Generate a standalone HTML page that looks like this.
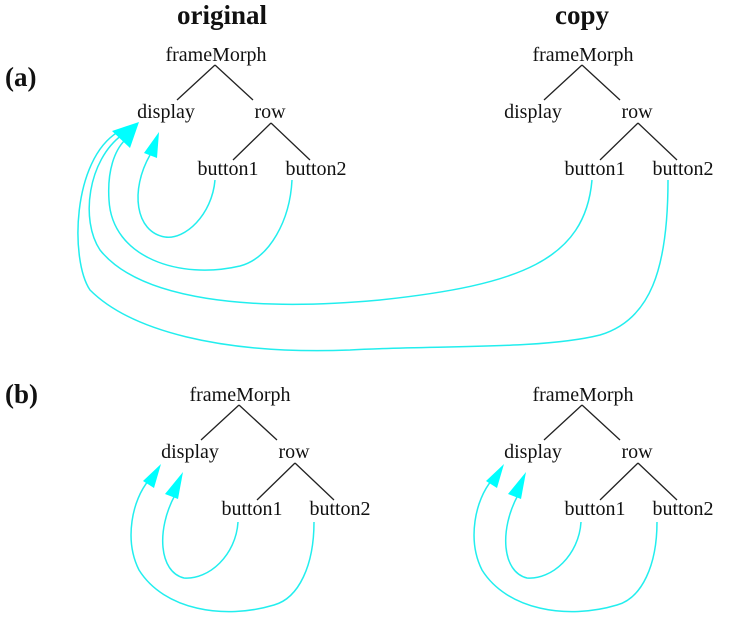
<!DOCTYPE html>
<html><head><meta charset="utf-8"><style>
html,body{margin:0;padding:0;background:#fff}
svg{display:block}
text{font-family:"Liberation Serif",serif;font-size:20px;fill:#111}
.b{font-weight:bold;font-size:27px}
.l{stroke:#222;stroke-width:1.3;fill:none}
.c{stroke:#22eeee;stroke-width:1.5;fill:none}
.h{fill:#00ffff}
</style></head><body>
<svg width="735" height="625" viewBox="0 0 735 625">
<defs>
<g id="tree">
<text x="216" y="61" text-anchor="middle">frameMorph</text>
<text x="166" y="118" text-anchor="middle">display</text>
<text x="270" y="118" text-anchor="middle">row</text>
<text x="228" y="175" text-anchor="middle">button1</text>
<text x="316" y="175" text-anchor="middle">button2</text>
<path class="l" d="M215,65 L177,100 M215,65 L253,100 M271,123 L233,160 M271,123 L310,160"/>
</g>
</defs>
<text class="b" x="222" y="24" text-anchor="middle">original</text>
<text class="b" x="582" y="24" text-anchor="middle">copy</text>
<text class="b" x="5" y="86">(a)</text>
<text class="b" x="5" y="403">(b)</text>

<use href="#tree"/>
<use href="#tree" transform="translate(367,0)"/>
<path class="c" d="M215,180 C212,215 185,240 165,237 C135,232 130,190 150,155"/>
<polygon class="h" points="159,132 144,153 157,158"/>
<path class="c" d="M292,180 C290,220 270,258 240,266 C180,280 112,258 109,200 C107,170 115,150 125,140"/>
<path class="c" d="M592,180 C585,260 520,285 380,300 C250,312 140,300 100,250 C80,220 88,160 122,135"/>
<path class="c" d="M668,180 C668,270 650,320 600,335 C540,350 430,345 350,350 C220,355 130,330 90,290 C70,260 72,160 118,132"/>
<polygon class="h" points="139,122 112,131 130,148"/>

<g transform="translate(24,340)">
<use href="#tree"/>
<path class="c" d="M214,182 C212,215 185,240 160,238 C135,232 132,190 151,155"/>
<polygon class="h" points="159,132 141,154 154,159"/>
<path class="c" d="M290,182 C290,225 275,258 250,265 C200,280 140,270 115,230 C100,200 108,160 125,140"/>
<polygon class="h" points="137,124 119,141 130,148"/>
</g>
<g transform="translate(367,340)">
<use href="#tree"/>
<path class="c" d="M214,182 C212,215 185,240 160,238 C135,232 132,190 151,155"/>
<polygon class="h" points="159,132 141,154 154,159"/>
<path class="c" d="M290,182 C290,225 275,258 250,265 C200,280 140,270 115,230 C100,200 108,160 125,140"/>
<polygon class="h" points="137,124 119,141 130,148"/>
</g>
</svg>
</body></html>
